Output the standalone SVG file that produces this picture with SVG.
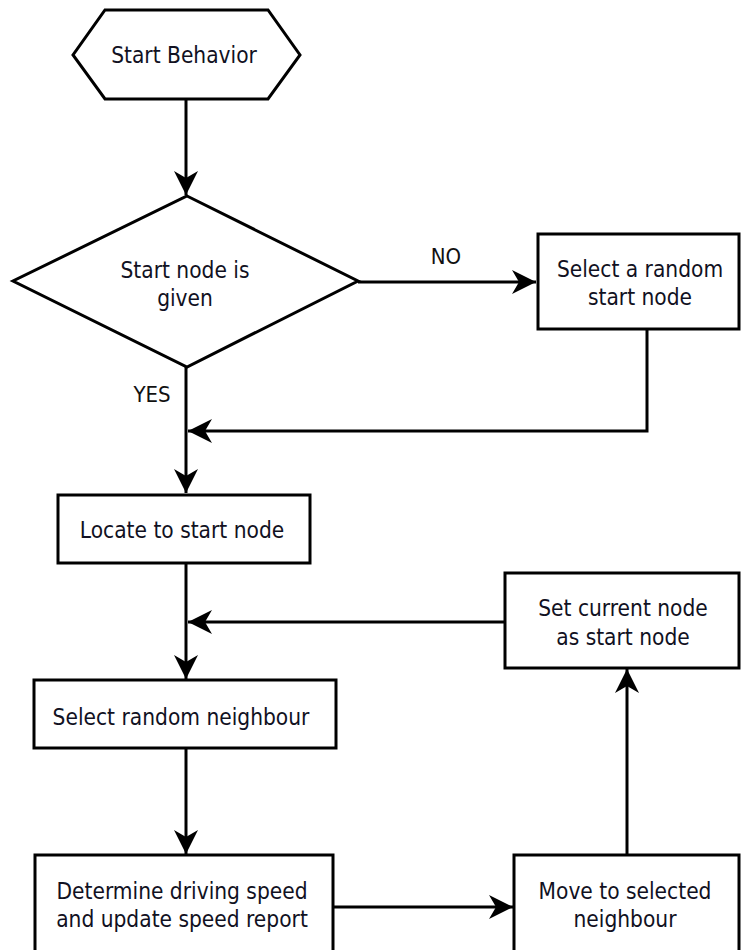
<svg xmlns="http://www.w3.org/2000/svg" width="741" height="950" viewBox="0 0 741 950">
  <style>
    .shape { fill: #ffffff; stroke: #000000; stroke-width: 3; }
    .edge { fill: none; stroke: #000000; stroke-width: 3; }
    .label { font-family: "DejaVu Sans Condensed", "DejaVu Sans", sans-serif; font-stretch: condensed; font-size: 22.5px; fill: #111122; text-anchor: middle; }
    .tag { font-family: "DejaVu Sans Condensed", "DejaVu Sans", sans-serif; font-stretch: condensed; font-size: 22px; fill: #111111; text-anchor: middle; }
  </style>
  <defs>
    <marker id="arrow" viewBox="0 0 24 24" refX="24" refY="12" markerWidth="24" markerHeight="24" markerUnits="userSpaceOnUse" orient="auto">
      <path d="M0,0 L24,12 L0,24 L7,12 Z" fill="#000000"/>
    </marker>
  </defs>

  <rect width="741" height="950" fill="#ffffff"/>

  <!-- connectors -->
  <g id="connectors">
    <path class="edge" d="M186,99 V195" marker-end="url(#arrow)"/>
    <path class="edge" d="M358,282 H536" marker-end="url(#arrow)"/>
    <path class="edge" d="M647,329 V431 H188" marker-end="url(#arrow)"/>
    <path class="edge" d="M186,367 V493" marker-end="url(#arrow)"/>
    <path class="edge" d="M186,563 V679" marker-end="url(#arrow)"/>
    <path class="edge" d="M505,622 H188" marker-end="url(#arrow)"/>
    <path class="edge" d="M186,748 V854" marker-end="url(#arrow)"/>
    <path class="edge" d="M333,907 H513" marker-end="url(#arrow)"/>
    <path class="edge" d="M627,855 V669" marker-end="url(#arrow)"/>
    <text class="tag" x="446" y="264">NO</text>
    <text class="tag" x="152" y="402">YES</text>
  </g>

  <g id="start-behavior">
    <polygon class="shape" points="105,10 268,10 300,55 268,99 105,99 73,55"/>
    <text class="label" x="184" y="63">Start Behavior</text>
  </g>

  <g id="start-node-given">
    <polygon class="shape" points="187,196 358,281 187,367 13,281"/>
    <text class="label" x="185" y="278">Start node is</text>
    <text class="label" x="185" y="306">given</text>
  </g>

  <g id="select-random-start">
    <rect class="shape" x="538" y="234" width="201" height="95"/>
    <text class="label" x="640" y="277">Select a random</text>
    <text class="label" x="640" y="305">start node</text>
  </g>

  <g id="locate-start">
    <rect class="shape" x="58" y="495" width="252" height="68"/>
    <text class="label" x="182" y="538">Locate to start node</text>
  </g>

  <g id="set-current">
    <rect class="shape" x="505" y="573" width="234" height="95"/>
    <text class="label" x="623" y="616">Set current node</text>
    <text class="label" x="623" y="645">as start node</text>
  </g>

  <g id="select-neighbour">
    <rect class="shape" x="34" y="680" width="302" height="68"/>
    <text class="label" x="181" y="725">Select random neighbour</text>
  </g>

  <g id="determine-speed">
    <rect class="shape" x="35" y="855" width="298" height="110"/>
    <text class="label" x="182" y="899">Determine driving speed</text>
    <text class="label" x="182" y="927">and update speed report</text>
  </g>

  <g id="move-neighbour">
    <rect class="shape" x="514" y="855" width="225" height="110"/>
    <text class="label" x="625" y="899">Move to selected</text>
    <text class="label" x="625" y="927">neighbour</text>
  </g>
</svg>
